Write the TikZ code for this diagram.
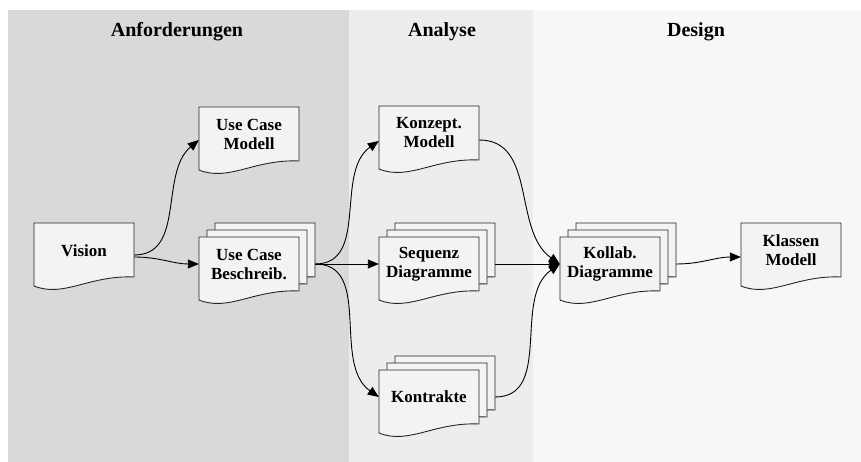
\documentclass[tikz,border=0pt]{standalone}
\usepackage{fontspec}
\setmainfont{Liberation Serif}
\usetikzlibrary{arrows.meta}
\definecolor{bandA}{HTML}{D9D9D9}
\definecolor{bandB}{HTML}{EDEDED}
\definecolor{bandC}{HTML}{F7F7F7}
\definecolor{docfill}{HTML}{F3F3F3}
\definecolor{docline}{HTML}{262626}
\newcommand\docpath[2]{%
  \filldraw[docshape] (#1,#2) -- ++(100,0) -- ++(0,54)
    .. controls ++(-45,-2) and ++(30,12) .. ++(-100,9) -- cycle;}
\newcommand\docstack[2]{%
  \docpath{#1+16}{#2-14}\docpath{#1+8}{#2-7}\docpath{#1}{#2}}
\tikzset{
  docshape/.style={fill=docfill,draw=docline,line width=0.9pt,line join=miter},
  doctext/.style={minimum width=100pt,minimum height=54pt,inner sep=0pt,
    align=center,font=\fontsize{17}{19}\selectfont\bfseries},
  title/.style={font=\fontsize{20}{22}\selectfont\bfseries},
  conn/.style={line width=0.9pt,draw=black,-{Triangle[length=11pt,width=9pt]}},
}
\begin{document}
\begin{tikzpicture}[x=1pt,y=-1pt]
\useasboundingbox (0,0) rectangle (861,462);
\fill[white] (0,0) rectangle (861,462);
\fill[bandA] (8,10) rectangle (349,462);
\fill[bandB] (349,10) rectangle (533,462);
\fill[bandC] (533,10) rectangle (861,462);
\node[title] (tA) at (177,32) {Anforderungen};
\node[title] (tB) at (442,32) {Analyse};
\node[title] (tC) at (696,32) {Design};
% shapes
\docpath{34}{223}
\docpath{199}{107}
\docstack{199}{237}
\docpath{379}{106}
\docstack{379}{237}
\docstack{379}{370}
\docstack{560}{237}
\docpath{741}{223}
% text nodes
\node[doctext] (vision) at (84,251) {Vision};
\node[doctext] (ucm) at (249,134) {Use Case\\Modell};
\node[doctext] (ucb) at (249,264) {Use Case\\Beschreib.};
\node[doctext] (konz) at (429,133) {Konzept.\\Modell};
\node[doctext] (seq) at (429,264) {Sequenz\\Diagramme};
\node[doctext] (kontr) at (429,397) {Kontrakte};
\node[doctext] (kollab) at (610,264) {Kollab.\\Diagramme};
\node[doctext] (klassen) at (791,250) {Klassen\\Modell};
% outgoing points of stacks
\coordinate (ucbout) at ([xshift=16pt]ucb.east);
\coordinate (seqout) at ([xshift=16pt]seq.east);
\coordinate (kontrout) at ([xshift=16pt]kontr.east);
\coordinate (kollabout) at ([xshift=16pt]kollab.east);
% connectors
\draw[conn] ([yshift=-4pt]vision.east) to[out=0,in=220] ([yshift=-6pt]ucm.west);
\draw[conn] ([yshift=-6pt]vision.east) to[out=0,in=180] (ucb.west);
\draw[conn] (ucbout) to[out=0,in=215] ([yshift=-8pt]konz.west);
\draw[conn] (ucbout) -- (seq.west);
\draw[conn] (ucbout) to[out=0,in=145] (kontr.west);
\draw[conn] ([yshift=-7pt]konz.east) to[out=0,in=145] (kollab.west);
\draw[conn] (seqout) -- (kollab.west);
\draw[conn] (kontrout) to[out=0,in=215] (kollab.west);
\draw[conn] (kollabout) to[out=0,in=180] ([yshift=-7pt]klassen.west);
\end{tikzpicture}
\end{document}
